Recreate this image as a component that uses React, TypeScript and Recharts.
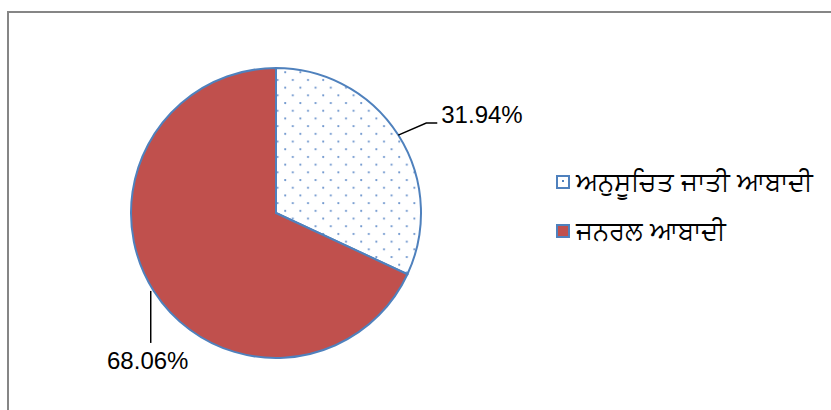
import { PieChart, Pie, Cell } from 'recharts';

const categories = ['ਅਨੁਸੂਚਿਤ ਜਾਤੀ ਆਬਾਦੀ', 'ਜਨਰਲ ਆਬਾਦੀ'];
const shares = [31.94, 68.06];
const labels = ['31.94%', '68.06%'];

const BLUE = '#4F81BD';
const RED = '#C0504D';
const FILLS = ['url(#dots)', RED];

const data = categories.map((name, i) => ({ name, value: shares[i] }));

const RADIAN = Math.PI / 180;

const renderLabel = (props: any) => {
  const { cx, cy, midAngle, outerRadius, index } = props;
  const x0 = cx + outerRadius * Math.cos(-midAngle * RADIAN);
  const y0 = cy + outerRadius * Math.sin(-midAngle * RADIAN);
  if (index === 0) {
    const x1 = x0 + 28;
    const y1 = y0 - 12;
    const x2 = x1 + 11;
    return (
      <g>
        <path d={`M${x0},${y0}L${x1},${y1}L${x2},${y1}`} stroke="#000" strokeWidth={1.5} fill="none" />
        <text x={x2 + 4} y={y1} fill="#000" fontSize={24} fontFamily="'Liberation Sans', Arial, sans-serif">
          {labels[index]}
        </text>
      </g>
    );
  }
  const y1 = y0 + 52;
  return (
    <g>
      <path d={`M${x0 - 3},${y0}L${x0 - 3},${y1}`} stroke="#000" strokeWidth={1.5} fill="none" />
      <text x={x0 - 6} y={y1 + 26} fill="#000" fontSize={24} textAnchor="middle" fontFamily="'Liberation Sans', Arial, sans-serif">
        {labels[index]}
      </text>
    </g>
  );
};

const ChartLegend = () => (
  <div
    style={{
      position: 'absolute',
      left: 556,
      top: 157,
      fontFamily: "'Noto Sans', sans-serif",
      fontSize: 26,
      lineHeight: '49px',
      color: '#000',
      whiteSpace: 'nowrap',
    }}
  >
    {categories.map((name, i) => (
      <div key={name} style={{ display: 'flex', alignItems: 'center', height: 49 }}>
        <div
          style={{
            width: 10,
            height: 10,
            border: `2px solid ${BLUE}`,
            background: i === 0 ? '#fff' : RED,
            marginRight: 6,
            position: 'relative',
          }}
        >
          {i === 0 && (
            <div style={{ position: 'absolute', left: 4, top: 3, width: 2, height: 2, background: BLUE }} />
          )}
        </div>
        <span>{name}</span>
      </div>
    ))}
  </div>
);

export default function App() {
  return (
    <div style={{ position: 'absolute', left: 0, top: 0, width: 831, height: 410, overflow: 'hidden', background: '#fff' }}>
      <div
        style={{
          position: 'absolute',
          left: 7,
          top: 11,
          width: 840,
          height: 420,
          borderTop: '2px solid #868686',
          borderLeft: '2px solid #868686',
        }}
      />
      <div style={{ position: 'absolute', left: 0, top: 0 }}>
        <PieChart width={831} height={410} margin={{ top: 0, right: 0, bottom: 0, left: 0 }}>
          <defs>
            <pattern id="dots" patternUnits="userSpaceOnUse" width={15.2} height={15.4}>
              <rect width={15.2} height={15.4} fill="#fff" />
              <circle cx={4} cy={3} r={1.1} fill="#6A93CC" />
              <circle cx={11.6} cy={10.7} r={1.1} fill="#6A93CC" />
            </pattern>
          </defs>
          <Pie
            data={data}
            dataKey="value"
            cx={276}
            cy={213}
            outerRadius={145}
            startAngle={90}
            endAngle={-270}
            stroke={BLUE}
            strokeWidth={2}
            label={renderLabel}
            labelLine={false}
            isAnimationActive={false}
          >
            {data.map((_, i) => (
              <Cell key={i} fill={FILLS[i]} />
            ))}
          </Pie>
        </PieChart>
      </div>
      <ChartLegend />
    </div>
  );
}
